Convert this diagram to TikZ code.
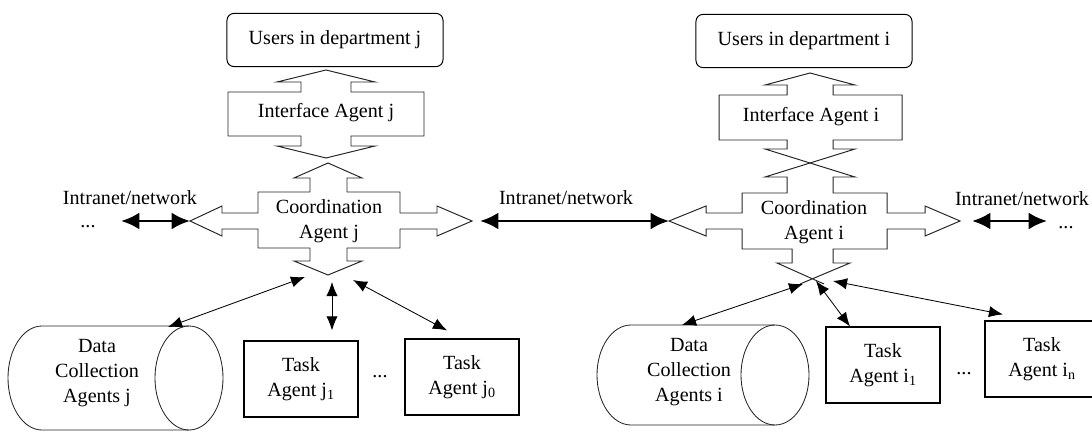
\documentclass[tikz,border=0pt]{standalone}
\usepackage{fontspec}
\setmainfont{Liberation Serif}
\usetikzlibrary{arrows.meta,calc}

\begin{document}
\begin{tikzpicture}[x=0.025cm, y=-0.025cm, font=\fontsize{14.3}{17.5}\selectfont]
    \tikzstyle{users} = [rectangle, draw, rounded corners=5pt, minimum width=5.4cm, minimum height=1.33cm, line width=0.7pt]
    \tikzstyle{block} = [draw=black!85, line width=0.7pt, line join=miter]
    \tikzstyle{task} = [rectangle, draw, align=center, minimum width=2.85cm, minimum height=1.9cm, line width=0.8pt]
    \tikzstyle{store} = [draw=black!85, line width=0.6pt]
    \tikzstyle{link} = [{Latex[length=10pt,width=8pt]}-{Latex[length=10pt,width=8pt]}, line width=0.6pt]
    \tikzstyle{net} = [{Latex[length=13pt,width=12pt]}-{Latex[length=13pt,width=12pt]}, line width=2pt]

    \useasboundingbox (0,0) rectangle (1092,432);

    % Department j
    \node[users] (usersj) at (335,40) {Users in department j};

    % Interface agent j
    \draw[block] (326,70) -- (375,82) -- (351,82) -- (351,92) -- (424,92) -- (424,136) -- (351,136) -- (351,146) -- (375,146) -- (326,158) -- (277,146) -- (301,146) -- (301,136) -- (228,136) -- (228,92) -- (301,92) -- (301,82) -- (277,82) -- cycle;
    \node (ifj) at (326,113) {Interface Agent j};

    % Coordination agent j
    \draw[block] (328,163) -- (362,178) -- (347,178) -- (347,192) -- (400,192) -- (400,213) -- (437,213) -- (437,206) -- (472,221) -- (437,236) -- (437,229) -- (400,229) -- (400,248) -- (347,248) -- (347,261) -- (362,261) -- (328,275) -- (294,261) -- (310,261) -- (310,248) -- (258,248) -- (258,229) -- (222,229) -- (222,236) -- (190,221) -- (222,206) -- (222,213) -- (258,213) -- (258,192) -- (310,192) -- (310,178) -- (294,178) -- cycle;
    \node[align=center] (coj) at (329,221) {Coordination\\Agent j};
    \coordinate (cjW) at (190,221);
    \coordinate (cjE) at (472,221);
    \coordinate (cjS) at (328,275);

    % Agents under j
    \draw[store] (189,326) -- (42,326) arc[start angle=270, end angle=90, x radius=34, y radius=52] -- (189,430);
    \draw[store] (189,378) ellipse[x radius=34, y radius=52];
    \node[align=center] (cylj) at (97,373) {Data\\Collection\\Agents j};
    \node[task] (tj1) at (301,379) {Task\\Agent j\textsubscript{1}};
    \node (dotsj) at (380,377) {...};
    \node[task] (tjn) at (462,377) {Task\\Agent j\textsubscript{0}};

    % Department i
    \node[users] (usersi) at (804,41) {Users in department i};

    % Interface agent i
    \draw[block] (810,73) -- (855,85) -- (833,85) -- (833,95) -- (902,95) -- (902,140) -- (833,140) -- (833,149) -- (855,149) -- (810,163) -- (765,149) -- (787,149) -- (787,140) -- (719,140) -- (719,95) -- (787,95) -- (787,85) -- (765,85) -- cycle;
    \node (ifi) at (811,117) {Interface Agent i};

    % Coordination agent i
    \draw[block] (824,284) -- (777,263) -- (792,263) -- (792,249) -- (742,249) -- (742,229) -- (706,229) -- (706,236) -- (669,221) -- (706,206) -- (706,213) -- (742,213) -- (742,193) -- (787,193) -- (787,177) -- (765,177) -- (810,163) -- (855,177) -- (833,177) -- (833,193) -- (887,193) -- (887,213) -- (925,213) -- (925,206) -- (960,221) -- (925,236) -- (925,229) -- (887,229) -- (887,249) -- (833,249) -- (833,263) -- (850,263) -- (800,284);
    \node[align=center] (coi) at (814,222) {Coordination\\Agent i};
    \coordinate (ciW) at (669,221);
    \coordinate (ciE) at (960,221);
    \coordinate (ciS) at (812,278);

    % Agents under i
    \draw[store] (775,325) -- (631,325) arc[start angle=270, end angle=90, x radius=34, y radius=50] -- (775,425);
    \draw[store] (775,375) ellipse[x radius=34, y radius=50];
    \node[align=center] (cyli) at (689,372) {Data\\Collection\\Agents i};
    \node[task] (ti1) at (883,365) {Task\\Agent i\textsubscript{1}};
    \node (dotsi) at (964,374) {...};
    \node[task] (tin) at (1042,359) {Task\\Agent i\textsubscript{n}};

    % Network
    \node (netl) at (130,198) {Intranet/network};
    \node (dotsl) at (88,227) {...};
    \node (netm) at (566,198) {Intranet/network};
    \node (netr) at (1022,199) {Intranet/network};
    \node (dotsr) at (1066,228) {...};
    \coordinate (netL) at (121,221);
    \coordinate (netR) at (1047,221);

    % Arrows
    \draw[net] (netL) -- (cjW);
    \draw[net] ($(cjE)+(8,0)$) -- (ciW);
    \draw[net] ($(ciE)+(12,0)$) -- (netR);
    \draw[link] ($(cylj)+(71,-46)$) -- ($(cjS)+(-23,2)$);
    \draw[link] ($(tj1.north)+(31,-10)$) -- ($(cjS)+(4,7)$);
    \draw[link] ($(tjn.north)+(-15,-8)$) -- ($(cjS)+(25,5)$);
    \draw[link] ($(cyli)+(-7,-47)$) -- ($(ciS)+(-9,6)$);
    \draw[link] ($(ti1.north)+(-33,0)$) -- ($(ciS)+(4,3)$);
    \draw[link] ($(tin.north)+(-39,-6)$) -- ($(ciS)+(21,3)$);
\end{tikzpicture}
\end{document}
